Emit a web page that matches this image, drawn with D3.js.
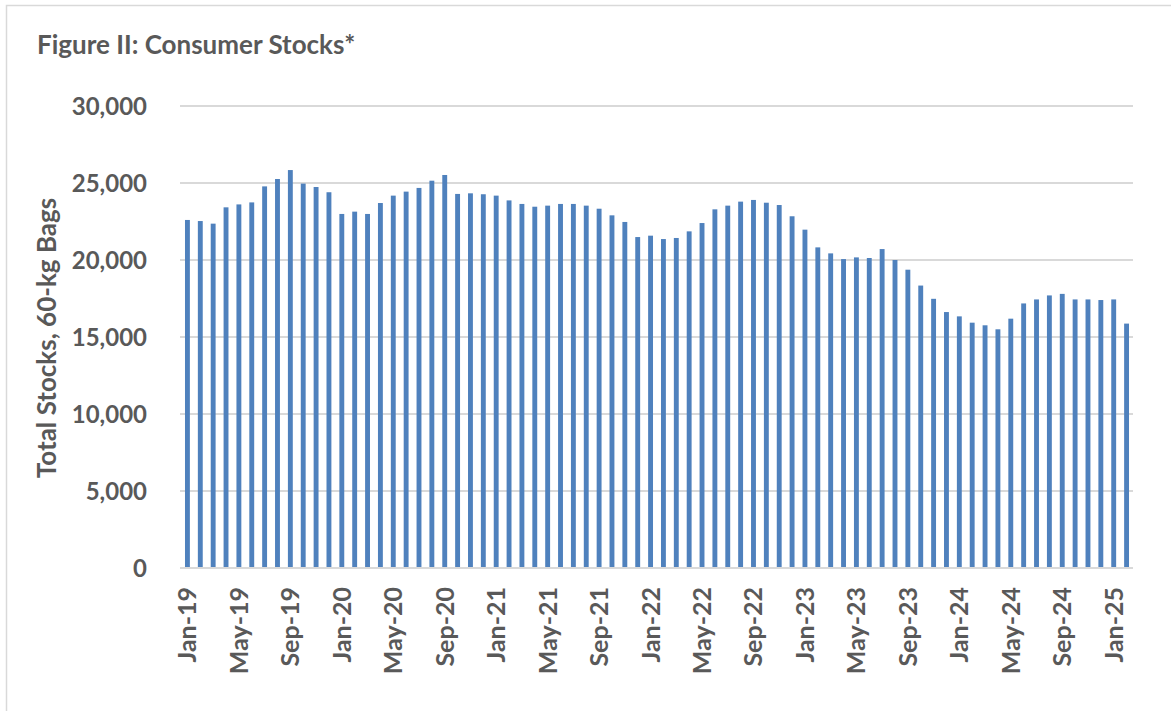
<!DOCTYPE html>
<html>
<head>
<meta charset="utf-8">
<script src="https://cdn.jsdelivr.net/npm/d3@7"></script>
<style>
  body { margin: 0; background: #fff; }
  text { font-family: Lato, "Open Sans", sans-serif; font-weight: bold; fill: #595959; }
</style>
</head>
<body>
<div id="chart"></div>
<script>
// Consumer stocks, thousands of 60-kg bags, monthly Jan-19 .. Feb-25
const months = [
  "Jan-19","Feb-19","Mar-19","Apr-19","May-19","Jun-19","Jul-19","Aug-19","Sep-19","Oct-19","Nov-19","Dec-19",
  "Jan-20","Feb-20","Mar-20","Apr-20","May-20","Jun-20","Jul-20","Aug-20","Sep-20","Oct-20","Nov-20","Dec-20",
  "Jan-21","Feb-21","Mar-21","Apr-21","May-21","Jun-21","Jul-21","Aug-21","Sep-21","Oct-21","Nov-21","Dec-21",
  "Jan-22","Feb-22","Mar-22","Apr-22","May-22","Jun-22","Jul-22","Aug-22","Sep-22","Oct-22","Nov-22","Dec-22",
  "Jan-23","Feb-23","Mar-23","Apr-23","May-23","Jun-23","Jul-23","Aug-23","Sep-23","Oct-23","Nov-23","Dec-23",
  "Jan-24","Feb-24","Mar-24","Apr-24","May-24","Jun-24","Jul-24","Aug-24","Sep-24","Oct-24","Nov-24","Dec-24",
  "Jan-25","Feb-25"
];

const stocks = [
  22600, 22530, 22360, 23420, 23610, 23740, 24780, 25260, 25840, 24960, 24740, 24400,
  22990, 23140, 22990, 23700, 24180, 24440, 24680, 25150, 25520, 24290, 24330, 24270,
  24180, 23870, 23640, 23460, 23530, 23640, 23640, 23530, 23330, 22900, 22470, 21490,
  21580, 21360, 21430, 21860, 22400, 23290, 23530, 23790, 23900, 23720, 23570, 22840,
  21970, 20820, 20430, 20060, 20170, 20130, 20710, 20000, 19370, 18340, 17480, 16620,
  16340, 15930, 15760, 15500, 16190, 17180, 17440, 17700, 17800, 17440, 17440, 17400,
  17440, 15870
];

const yTicks = [0, 5000, 10000, 15000, 20000, 25000, 30000];
// only every 4th month gets a label
const xLabels = ["Jan-19","May-19","Sep-19","Jan-20","May-20","Sep-20","Jan-21","May-21","Sep-21",
  "Jan-22","May-22","Sep-22","Jan-23","May-23","Sep-23","Jan-24","May-24","Sep-24","Jan-25"];

const W = 1171, H = 711;
const margin = {top: 106, right: 38, bottom: 143, left: 180};

const svg = d3.select('#chart')
    .append('svg')
    .attr('width', W)
    .attr('height', H);

// chart area border (runs off the right and bottom of the window)
svg.append('rect')
    .attr('x', 6.5)
    .attr('y', 5.5)
    .attr('width', W + 20)
    .attr('height', H + 20)
    .attr('fill', 'none')
    .attr('stroke', '#d9d9d9')
    .attr('stroke-width', 1.5);

const x = d3.scaleBand()
    .domain(months)
    .range([margin.left + 1, W - margin.right])
    .paddingInner(0.62)
    .paddingOuter(0.31);

const y = d3.scaleLinear()
    .domain([0, 30000])
    .range([H - margin.bottom, margin.top]);

// gridlines
svg.append('g')
    .selectAll('line')
    .data(yTicks)
    .enter()
    .append('line')
    .attr('x1', margin.left)
    .attr('x2', W - margin.right)
    .attr('y1', d => y(d))
    .attr('y2', d => y(d))
    .attr('stroke', '#d9d9d9')
    .attr('stroke-width', 2);

// bars
svg.append('g')
    .selectAll('rect')
    .data(stocks)
    .enter()
    .append('rect')
    .attr('x', (d, i) => x(months[i]))
    .attr('y', d => y(d))
    .attr('width', x.bandwidth())
    .attr('height', d => y(0) - y(d) - 1)
    .attr('fill', '#4f81bd');

// y axis labels
const yAxis = svg.append('g')
    .attr('transform', `translate(147,0)`)
    .call(d3.axisLeft(y).tickValues(yTicks).tickFormat(d3.format(',')).tickSize(0).tickPadding(0));
yAxis.select('.domain').remove();
yAxis.selectAll('text')
    .style('font-size', '24px')
    .attr('dy', '0.36em')
    .attr('fill', '#595959');

// x axis labels, rotated
const xAxis = svg.append('g')
    .attr('transform', `translate(0,${H - margin.bottom + 19})`)
    .call(d3.axisBottom(x).tickValues(xLabels).tickSize(0).tickPadding(0));
xAxis.select('.domain').remove();
xAxis.selectAll('text')
    .style('font-size', '25px')
    .attr('text-anchor', 'end')
    .attr('transform', 'rotate(-90)')
    .attr('x', 0)
    .attr('y', 0)
    .attr('dy', '0.36em')
    .attr('fill', '#595959');

// titles
svg.append('text')
    .attr('x', 37)
    .attr('y', 54)
    .style('font-size', '26px')
    .text('Figure II: Consumer Stocks*');

svg.append('text')
    .attr('transform', 'translate(56,338) rotate(-90)')
    .attr('text-anchor', 'middle')
    .style('font-size', '26px')
    .text('Total Stocks, 60-kg Bags');
</script>
</body>
</html>
